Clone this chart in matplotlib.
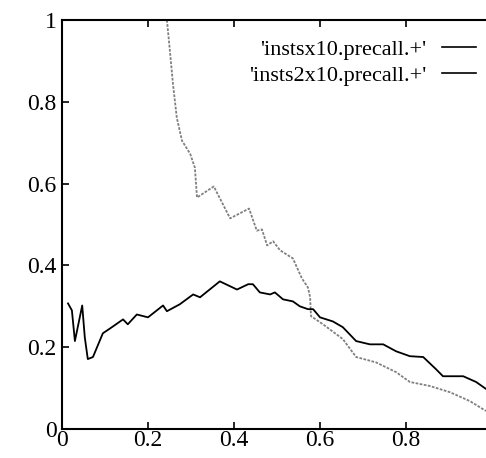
"""
    Precision/recall style curves, two runs
"""

import matplotlib
matplotlib.use('Agg')
import matplotlib.pyplot as plt
from matplotlib.lines import Line2D

# 'instsx10.precall.+'
x1 = [0.244, 0.251, 0.258, 0.267, 0.279, 0.298, 0.309, 0.314, 0.353, 0.391,
      0.435, 0.453, 0.465, 0.477, 0.491, 0.507, 0.537, 0.558, 0.572, 0.577,
      0.579, 0.607, 0.653, 0.684, 0.730, 0.777, 0.809, 0.856, 0.902, 0.949,
      0.986]
y1 = [1.0, 0.924, 0.844, 0.761, 0.705, 0.673, 0.639, 0.566, 0.593, 0.515,
      0.539, 0.485, 0.488, 0.449, 0.459, 0.437, 0.417, 0.368, 0.346, 0.322,
      0.276, 0.256, 0.220, 0.176, 0.163, 0.139, 0.115, 0.105, 0.090, 0.068,
      0.044]

# 'insts2x10.precall.+'
x2 = [0.014, 0.023, 0.030, 0.047, 0.053, 0.060, 0.072, 0.095, 0.112, 0.142,
      0.153, 0.174, 0.200, 0.235, 0.244, 0.274, 0.305, 0.321, 0.367, 0.391,
      0.407, 0.433, 0.444, 0.460, 0.484, 0.495, 0.514, 0.537, 0.553, 0.572,
      0.584, 0.600, 0.630, 0.653, 0.684, 0.716, 0.747, 0.777, 0.809, 0.840,
      0.870, 0.886, 0.933, 0.963, 0.986]
y2 = [0.307, 0.290, 0.215, 0.302, 0.224, 0.171, 0.176, 0.234, 0.246, 0.268,
      0.256, 0.280, 0.273, 0.302, 0.288, 0.305, 0.329, 0.322, 0.361, 0.349,
      0.341, 0.354, 0.354, 0.334, 0.329, 0.334, 0.317, 0.312, 0.300, 0.293,
      0.293, 0.273, 0.263, 0.249, 0.215, 0.207, 0.207, 0.190, 0.178, 0.176,
      0.146, 0.129, 0.129, 0.115, 0.098]

labels = ["'instsx10.precall.+'", "'insts2x10.precall.+'"]
xticks = [0, 0.2, 0.4, 0.6, 0.8]
yticks = [0, 0.2, 0.4, 0.6, 0.8, 1]

plt.rcParams['font.family'] = ['Liberation Serif', 'DejaVu Serif']

fig = plt.figure(figsize=(4.86, 4.58), dpi=100)
ax = fig.add_axes([62/486, 29/458, 430/486, 409/458])

ax.plot(x1, y1, color='#808080', lw=1.3, ls=(0, (1.5, 0.8)))
ax.plot(x2, y2, color='black', lw=1.3)

ax.set_xlim(0, 1)
ax.set_ylim(0, 1)
ax.set_xticks(xticks)
ax.set_xticklabels(['0', '0.2', '0.4', '0.6', '0.8'])
ax.set_yticks(yticks)
ax.set_yticklabels(['0', '0.2', '0.4', '0.6', '0.8', '1'])
ax.tick_params(direction='in', length=5, width=1.2, labelsize=17,
               top=True, right=False, pad=4)
ax.tick_params(axis='x', pad=1)
for s in ax.spines.values():
    s.set_linewidth(1.5)

handles = [Line2D([], [], color='black', lw=1.2) for _ in labels]
ax.legend(handles, labels, loc='upper right', bbox_to_anchor=(0.963, 0.953),
          markerfirst=False, frameon=False, fontsize=16, handlelength=1.55,
          handletextpad=0.7, labelspacing=0.25, borderpad=0, borderaxespad=0)

fig.savefig('out.png', dpi=100)
